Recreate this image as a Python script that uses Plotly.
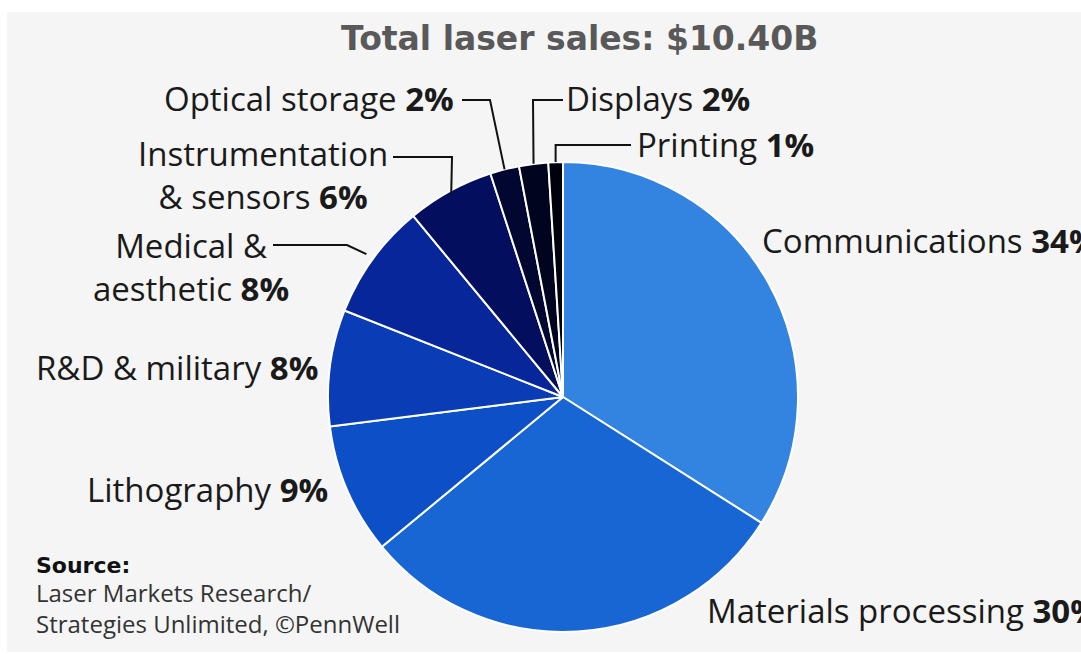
import math
import plotly.graph_objects as go

W, H = 1081, 654

categories = ["Communications", "Materials processing", "Lithography", "R&D & military",
              "Medical & aesthetic", "Instrumentation & sensors", "Optical storage",
              "Displays", "Printing"]
shares = [34, 30, 9, 8, 8, 6, 2, 2, 1]
colors = ["#3383e0", "#1766d4", "#0c4fc6", "#0a3cb6", "#06269a",
          "#030f5e", "#020731", "#01041e", "#00000c"]

title_text = "Total laser sales: $10.40B"
source_lines = ["Laser Markets Research/", "Strategies Unlimited, \u00a9PennWell"]

# pie geometry (pixels)
CX, CY, R = 563, 397, 235


def px(x):
    return x / W


def py(y):
    return 1 - y / H


def edge_point(idx, inset=0):
    total = sum(shares)
    start = sum(shares[:idx])
    mid = (start + shares[idx] / 2) / total * 360.0
    a = math.radians(mid)
    r = R - inset
    return CX + r * math.sin(a), CY - r * math.cos(a)


fig = go.Figure()
fig.add_trace(go.Pie(
    labels=categories,
    values=shares,
    sort=False,
    direction="clockwise",
    rotation=0,
    textinfo="none",
    marker=dict(colors=colors, line=dict(color="#ffffff", width=2)),
    domain=dict(x=[px(CX - R), px(CX + R)], y=[py(CY + R), py(CY - R)]),
    showlegend=False,
    hoverinfo="label+percent",
))

FONT = "Open Sans"
FS = 33
annotations = []
shapes = []

# background panel
shapes.append(dict(type="rect", xref="paper", yref="paper", x0=px(7), x1=1.0,
                   y0=py(652), y1=py(12), fillcolor="#f5f5f5", line=dict(width=0),
                   layer="below"))


def label(text, x, y, anchor):
    annotations.append(dict(text=text, x=px(x), y=py(y), xref="paper", yref="paper",
                            xanchor=anchor, yanchor="middle", showarrow=False,
                            align="center",
                            font=dict(family=FONT, size=FS, color="#1a1a1a")))


def leader(points):
    path = "M " + " L ".join(f"{px(x)},{py(y)}" for x, y in points)
    shapes.append(dict(type="path", xref="paper", yref="paper", path=path,
                       line=dict(color="#111111", width=2), layer="above"))


def lab(i):
    return f"<b>{shares[i]}%</b>"


# title
annotations.append(dict(text=f"<b>{title_text}</b>", x=px(579), y=py(39), xref="paper",
                        yref="paper", xanchor="center", yanchor="middle", showarrow=False,
                        font=dict(family="DejaVu Sans", size=33, color="#595959")))

# labels
label(f"Communications {lab(0)}", 760, 240, "left")
label(f"Materials processing {lab(1)}", 705, 610, "left")
label(f"Lithography {lab(2)}", 330, 489, "right")
label(f"R&D & military {lab(3)}", 320, 367, "right")
label(f"Medical &<br>aesthetic {lab(4)}", 191, 267, "center")
label(f"Instrumentation<br>& sensors {lab(5)}", 263, 175, "center")
label(f"Optical storage {lab(6)}", 456, 98, "right")
label(f"Displays {lab(7)}", 564, 98, "left")
label(f"Printing {lab(8)}", 635, 145, "left")

# leader lines
ex, ey = edge_point(4, inset=-8)
leader([(273, 245), (347, 245), (ex, ey)])
ex, ey = edge_point(5, inset=3)
leader([(393, 157), (452, 157), (ex, ey)])
ex, ey = edge_point(6, inset=0)
leader([(462, 100), (490, 100), (ex, ey)])
ex, ey = edge_point(7, inset=0)
leader([(563, 100), (533, 100), (ex, ey)])
ex, ey = edge_point(8, inset=0)
leader([(631, 145), (ex, 145), (ex, ey)])

# source
annotations.append(dict(text="<b>Source:</b>", x=px(34), y=py(565), xref="paper", yref="paper",
                        xanchor="left", yanchor="middle", showarrow=False,
                        font=dict(family="DejaVu Sans", size=22, color="#111111")))
annotations.append(dict(text="<br>".join(source_lines), x=px(34), y=py(608), xref="paper",
                        yref="paper", xanchor="left", yanchor="middle", showarrow=False,
                        align="left",
                        font=dict(family=FONT, size=24, color="#333333")))

fig.update_layout(
    width=W, height=H,
    margin=dict(l=0, r=0, t=0, b=0),
    paper_bgcolor="#ffffff",
    plot_bgcolor="#ffffff",
    annotations=annotations,
    shapes=shapes,
)

fig.write_html("out.html")
